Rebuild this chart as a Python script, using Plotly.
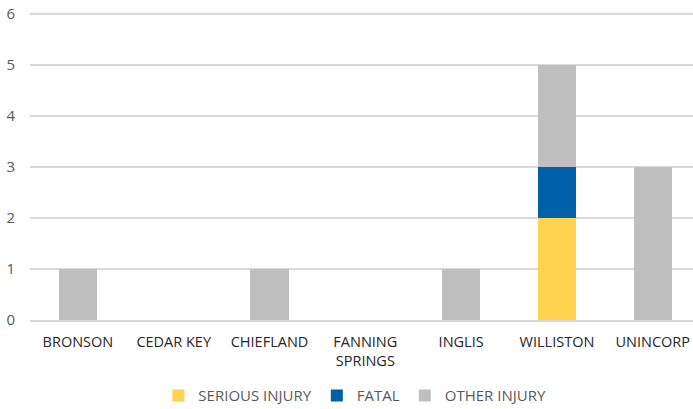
import plotly.graph_objects as go

categories = ["BRONSON", "CEDAR KEY", "CHIEFLAND", "FANNING<br>SPRINGS", "INGLIS", "WILLISTON", "UNINCORP"]
serious_injury = [0, 0, 0, 0, 0, 2, 0]
fatal = [0, 0, 0, 0, 0, 1, 0]
other_injury = [1, 0, 1, 0, 1, 2, 3]
y_max = 6

FONT = "Open Sans"

fig = go.Figure()
fig.add_bar(x=categories, y=serious_injury, name="SERIOUS INJURY", marker=dict(color="#FFD34F", line_width=0))
fig.add_bar(x=categories, y=fatal, name="FATAL", marker=dict(color="#0060A8", line_width=0))
fig.add_bar(x=categories, y=other_injury, name="OTHER INJURY", marker=dict(color="#BFBFBF", line_width=0))

# top gridline (plotly omits the one at the range edge)
fig.add_shape(type="line", xref="paper", x0=0, x1=1, yref="y", y0=y_max, y1=y_max,
              line=dict(color="#D9D9D9", width=1.5), layer="below")

fig.update_layout(
    barmode="stack",
    bargap=0.6,
    width=693, height=409,
    margin=dict(l=30, r=0, t=10.7, b=88.5, autoexpand=False),
    paper_bgcolor="white", plot_bgcolor="white",
    font=dict(family=FONT, size=15, color="#595959"),
    showlegend=True,
    legend=dict(orientation="h", x=0.49, xanchor="center", y=-0.245, yanchor="middle",
                font=dict(family=FONT, size=15, color="#595959"), traceorder="normal",
                itemwidth=30),
    xaxis=dict(range=[-0.5, 6.42], showgrid=False, showline=True, linecolor="#D9D9D9", linewidth=1.5,
               ticks="", automargin=False, ticklabelstandoff=8,
               tickfont=dict(family=FONT, size=14.5, color="#262626")),
    yaxis=dict(range=[0, 6.05], dtick=1, showgrid=True, gridcolor="#D9D9D9", gridwidth=1.5,
               zeroline=False, showline=False, ticks="", ticklabelstandoff=14, automargin=False,
               tickfont=dict(family=FONT, size=15, color="#595959")),
)

fig.write_html("out.html", config={"displayModeBar": False},
               post_script="document.body.style.margin='0';document.body.style.padding='0';")
